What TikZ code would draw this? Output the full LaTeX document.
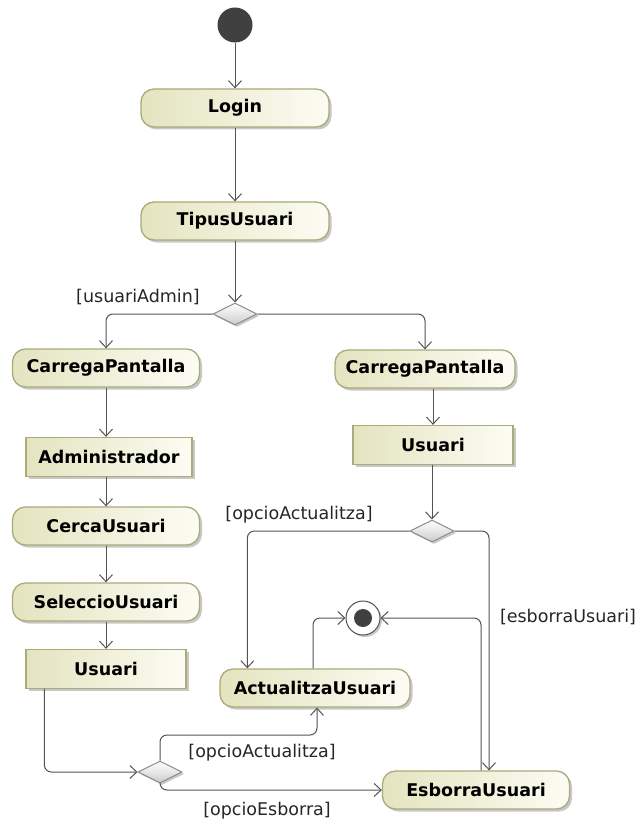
\documentclass[tikz,border=0pt]{standalone}
\usepackage{fontspec}
\setmainfont{DejaVu Sans}
\usetikzlibrary{arrows.meta,shadows,shapes.geometric}

\definecolor{actborder}{RGB}{170,170,122}
\definecolor{actleft}{RGB}{228,228,192}
\definecolor{actright}{RGB}{252,252,244}
\definecolor{flow}{RGB}{84,84,84}
\definecolor{blob}{RGB}{64,64,64}

\tikzset{
  actbase/.style={draw=actborder, line width=1.3pt,
    left color=actleft, right color=actright,
    font=\fontsize{17.5}{20}\selectfont\bfseries, text=black, inner sep=0pt,
    drop shadow={shadow xshift=2.5pt, shadow yshift=-2.5pt, opacity=0.3, fill=black!70}},
  action/.style={actbase, rounded corners=13pt, minimum height=38pt},
  pinbox/.style={actbase, minimum height=39pt},
  decision/.style={diamond, draw=black!45, line width=1pt, top color=white, bottom color=black!20,
    minimum width=44pt, minimum height=22pt, inner sep=0pt,
    drop shadow={shadow xshift=2pt, shadow yshift=-2pt, opacity=0.3, fill=black!70}},
  guard/.style={font=\fontsize{17.5}{20}\selectfont, text=black!85, inner sep=0pt},
  flowline/.style={draw=flow, line width=1pt, rounded corners=7pt,
    -{Straight Barb[length=7pt,width=13pt]}},
}

\begin{document}
\begin{tikzpicture}[x=1pt, y=-1pt]
  \fill[white] (0,0) rectangle (639,826);
  \useasboundingbox (0,0) rectangle (639,826);

  % start / end markers
  \node[circle, fill=blob, minimum size=35pt, inner sep=0pt] (init) at (235,25) {};
  \node[circle, draw=flow, fill=white, line width=1pt, minimum size=34pt, inner sep=0pt,
        drop shadow={shadow xshift=2pt, shadow yshift=-2pt, opacity=0.3, fill=black!70}] (final) at (363,618) {};
  \fill[blob] (final.center) circle (9pt);

  % main column
  \node[action, minimum width=188pt] (login) at (235,108) {Login};
  \node[action, minimum width=188pt] (tipus) at (235,221) {TipusUsuari};
  \node[decision] (d1) at (235,314) {};

  % administrator branch
  \node[action, minimum width=187pt] (cpL) at (106,368) {CarregaPantalla};
  \node[pinbox, minimum width=166pt] (admin) at (109,457) {Administrador};
  \node[action, minimum width=187pt] (cerca) at (106,526) {CercaUsuari};
  \node[action, minimum width=187pt] (selec) at (106,602) {SeleccioUsuari};
  \node[pinbox, minimum width=160pt] (usL) at (106,669) {Usuari};
  \node[decision] (d3) at (160,772) {};

  % ordinary user branch
  \node[action, minimum width=180pt] (cpR) at (425,369) {CarregaPantalla};
  \node[pinbox, minimum width=160pt] (usR) at (433,445) {Usuari};
  \node[decision] (d2) at (432,531) {};

  % final actions
  \node[action, minimum width=190pt] (act) at (315,688) {ActualitzaUsuari};
  \node[action, minimum width=187pt] (esb) at (476,790) {EsborraUsuari};

  % guards
  \node[guard] (gAdmin) at (138,297) {[usuariAdmin]};
  \node[guard] (gAct1) at (299,515) {[opcioActualitza]};
  \node[guard] (gEsb1) at (568,617) {[esborraUsuari]};
  \node[guard] (gAct2) at (262,753) {[opcioActualitza]};
  \node[guard] (gEsb2) at (267,811) {[opcioEsborra]};

  \coordinate (bendA) at (0,735);

  % flows
  \draw[flowline] (init.south) -- (init.south |- login.north);
  \draw[flowline] (login.south) -- (login.south |- tipus.north);
  \draw[flowline] (tipus.south) -- (tipus.south |- d1.north);
  \draw[flowline] (d1.west) -| (cpL.north);
  \draw[flowline] (d1.east) -| (cpR.north);

  \draw[flowline] (cpL.south) -- (cpL.south |- admin.north);
  \draw[flowline] (cpL.south |- admin.south) -- (cpL.south |- cerca.north);
  \draw[flowline] (cerca.south) -- (cerca.south |- selec.north);
  \draw[flowline] (selec.south) -- (selec.south |- usL.north);
  \draw[flowline] ([xshift=19pt]usL.south west) |- (d3.west);
  \draw[flowline] (d3.north) -- (d3.north |- bendA) -| ([xshift=2pt]act.south);
  \draw[flowline] (d3.south) |- (esb.west);

  \draw[flowline] (cpR.south -| usR.north) -- (usR.north);
  \draw[flowline] (usR.south -| d2.north) -- (d2.north);
  \draw[flowline] (d2.west) -| ([xshift=28pt]act.north west);
  \draw[flowline] (d2.east) -| ([xshift=13pt]esb.north);

  \draw[flowline] ([xshift=-2pt]act.north) |- (final.west);
  \draw[flowline] ([xshift=5pt]esb.north) |- (final.east);
\end{tikzpicture}
\end{document}
